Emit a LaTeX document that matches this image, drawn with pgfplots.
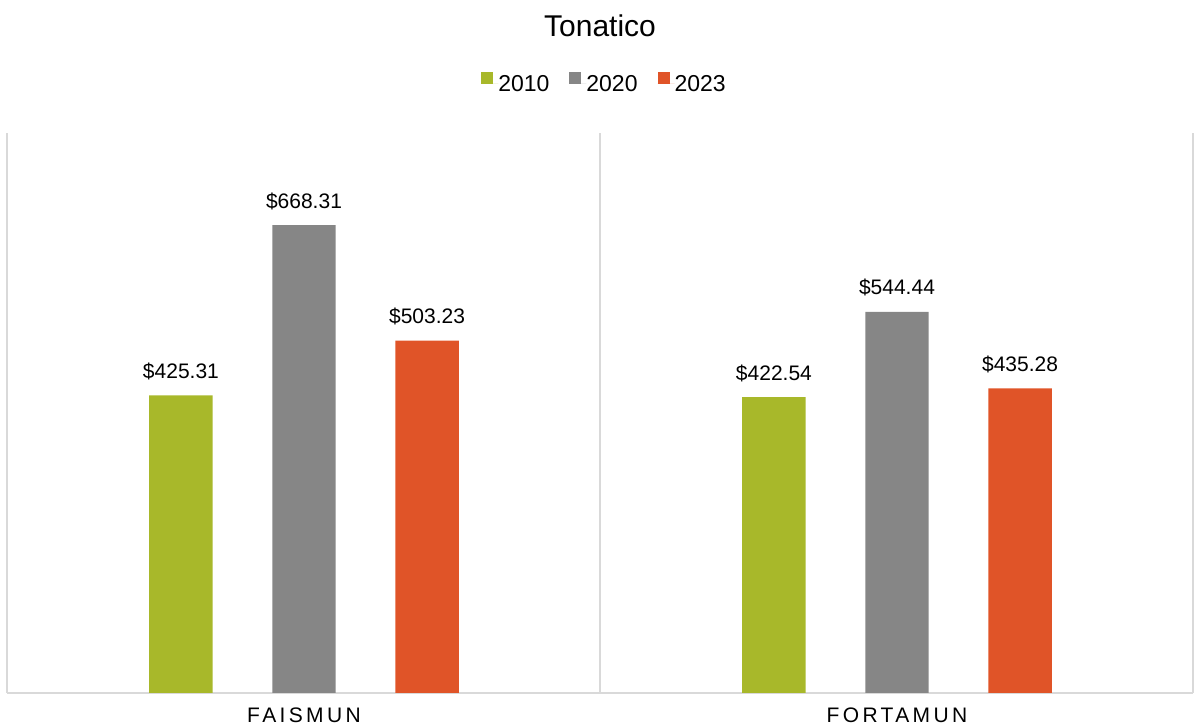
\documentclass[border=0pt]{standalone}
\usepackage{pgfplots}
\pgfplotsset{compat=1.18}
\usepackage{fontspec}
\setmainfont{Liberation Sans}
\definecolor{cA}{HTML}{A8B82A}
\definecolor{cB}{HTML}{868686}
\definecolor{cC}{HTML}{E05428}
\definecolor{gridc}{HTML}{D9D9D9}
\begin{document}
\begin{tikzpicture}
\path[use as bounding box] (-7.5pt,-34pt) rectangle (1187.5pt,693pt);
\begin{axis}[
  at={(0pt,0pt)}, anchor=south west,
  scale only axis,
  width=1186pt, height=560pt,
  xmin=-0.5, xmax=1.5, ymin=0, ymax=800,
  axis y line=none,
  axis x line*=bottom,
  x axis line style={draw=gridc, line width=2pt, -},
  xtick={0,1},
  xticklabels={FAISMUN,FORTAMUN},
  major tick length=0pt,
  xticklabel style={anchor=base, yshift=-30pt, font={\fontsize{21}{24}\selectfont\addfontfeature{LetterSpace=16}}},
  extra x ticks={-0.5,0.5,1.5},
  extra x tick labels={},
  extra x tick style={grid=major, major grid style={draw=gridc, line width=2pt}},
  ybar, bar width=0.107,
  /pgf/number format/assume math mode=true,
  nodes near coords={\$\pgfmathprintnumber[fixed,fixed zerofill,precision=2]{\pgfplotspointmeta}},
  every node near coord/.append style={anchor=base, yshift=17pt, font=\fontsize{21}{24}\selectfont, text=black},
  legend columns=-1,
  legend style={draw=none, fill=none, at={(596pt,609pt)}, anchor=base, font=\fontsize{23}{26}\selectfont,
    nodes={inner sep=0pt}, column sep=0pt,
    /tikz/every even column/.append style={column sep=20pt}},
  legend image code/.code={\fill[#1,draw=none] (0pt,0pt) rectangle (12pt,12pt); \path (0pt,0pt) -- (17pt,0pt);},
  clip=false,
]
\addplot[fill=cA, draw=none, bar shift=-0.2075] coordinates {(0,425.31) (1,422.54)};
\addplot[fill=cB, draw=none, bar shift=0] coordinates {(0,668.31) (1,544.44)};
\addplot[fill=cC, draw=none, bar shift=0.2075] coordinates {(0,503.23) (1,435.28)};
\legend{2010,2020,2023}
\end{axis}
\node[anchor=base, font=\fontsize{30}{34}\selectfont] at (592.5pt,656pt) {Tonatico};
\end{tikzpicture}
\end{document}
